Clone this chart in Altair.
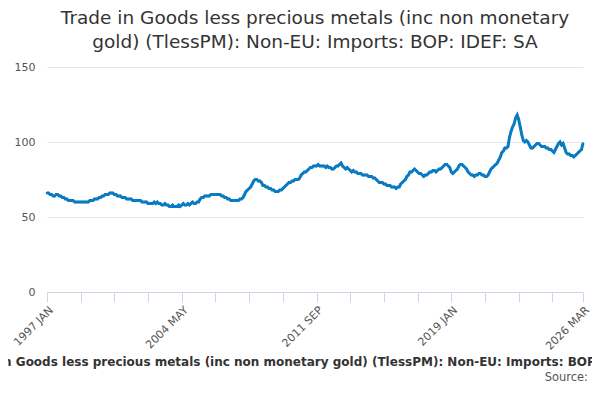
import altair as alt
import pandas as pd

months = ['JAN', 'FEB', 'MAR', 'APR', 'MAY', 'JUN', 'JUL', 'AUG', 'SEP', 'OCT', 'NOV', 'DEC']

# monthly values, one list per year
v1997 = [66, 66, 65, 65, 64, 64, 65, 65, 64, 64, 63, 63]
v1998 = [62, 62, 61, 61, 61, 61, 60, 60, 60, 60, 60, 60]
v1999 = [60, 60, 60, 60, 61, 61, 61, 62, 62, 62, 63, 63]
v2000 = [64, 64, 65, 65, 65, 66, 66, 66, 65, 65, 64, 64]
v2001 = [64, 63, 63, 63, 62, 62, 62, 62, 61, 61, 61, 61]
v2002 = [61, 61, 60, 60, 60, 60, 59, 59, 59, 59, 60, 59]
v2003 = [60, 59, 59, 58, 58, 59, 58, 58, 57, 57, 58, 57]
v2004 = [57, 57, 58, 57, 58, 59, 58, 58, 59, 58, 59, 60]
v2005 = [59, 59, 60, 60, 62, 63, 63, 64, 64, 64, 64, 65]
v2006 = [65, 65, 65, 65, 65, 65, 64, 64, 63, 63, 62, 62]
v2007 = [61, 61, 61, 61, 61, 61, 62, 62, 63, 65, 67, 68]
v2008 = [69, 70, 72, 74, 75, 75, 74, 74, 73, 71, 71, 70]
v2009 = [70, 69, 69, 68, 68, 67, 67, 67, 68, 68, 69, 70]
v2010 = [71, 72, 73, 73, 74, 74, 75, 75, 75, 76, 78, 79]
v2011 = [80, 80, 81, 82, 83, 83, 84, 84, 84, 85, 84, 84]
v2012 = [84, 84, 83, 84, 83, 83, 82, 82, 83, 84, 84, 85]
v2013 = [86, 84, 83, 82, 83, 82, 81, 80, 81, 80, 80, 79]
v2014 = [79, 79, 78, 78, 78, 78, 77, 77, 77, 76, 76, 75]
v2015 = [74, 73, 73, 73, 72, 72, 71, 71, 71, 70, 70, 70]
v2016 = [69, 70, 70, 72, 73, 74, 75, 77, 78, 80, 80, 81]
v2017 = [82, 81, 80, 79, 79, 78, 77, 78, 78, 79, 80, 80]
v2018 = [81, 81, 80, 81, 82, 82, 83, 84, 85, 85, 84, 83]
v2019 = [80, 79, 80, 81, 82, 84, 85, 85, 84, 83, 82, 80]
v2020 = [79, 78, 78, 77, 78, 78, 79, 79, 78, 78, 77, 77]
v2021 = [78, 80, 82, 83, 84, 85, 86, 88, 90, 93, 94, 96]
v2022 = [96, 97, 103, 107, 110, 112, 116, 118, 115, 110, 105, 101]
v2023 = [100, 101, 100, 98, 96, 96, 97, 98, 99, 99, 98, 97]
v2024 = [97, 97, 96, 96, 95, 95, 94, 93, 95, 97, 99, 100]
v2025 = [98, 99, 96, 93, 92, 92, 91, 91, 90, 91, 92, 93]
v2026 = [94, 95, 99]

years = [v1997, v1998, v1999, v2000, v2001, v2002, v2003, v2004, v2005, v2006,
         v2007, v2008, v2009, v2010, v2011, v2012, v2013, v2014, v2015, v2016,
         v2017, v2018, v2019, v2020, v2021, v2022, v2023, v2024, v2025, v2026]

rows = []
for k, vals in enumerate(years):
    for m, v in enumerate(vals):
        rows.append({'i': len(rows), 'label': f'{1997 + k} {months[m]}', 'value': v})
df = pd.DataFrame(rows)

tick_idx = list(range(0, 331, 22)) + [350]
label_idx = {0: '1997 JAN', 88: '2004 MAY', 176: '2011 SEP', 264: '2019 JAN', 350: '2026 MAR'}
label_expr = ' : '.join(f"datum.value == {k} ? '{v}'" for k, v in label_idx.items()) + " : ''"

font = 'DejaVu Sans'
xtitle = 'Trade in Goods less precious metals (inc non monetary gold) (TlessPM): Non-EU: Imports: BOP: IDEF: SA'

line = alt.Chart(df).mark_line(color='#0a7bc2', strokeWidth=3, point=alt.OverlayMarkDef(color='#0a7bc2', size=6)).encode(
    x=alt.X('i:Q', scale=alt.Scale(domain=[0, 350], nice=False), title=xtitle,
            axis=alt.Axis(values=tick_idx, labelExpr=label_expr, labelAngle=-45, labelAlign='right',
                          labelBaseline='top', labelFontSize=11, labelColor='#555', grid=False,
                          domainColor='#ccd6eb', tickColor='#ccd6eb', tickSize=10, labelPadding=2,
                          titleFontSize=12, titleFontWeight='bold', titleColor='#333',
                          titleY=64, titleX=262, labelOverlap=False)),
    y=alt.Y('value:Q', scale=alt.Scale(domain=[0, 150]), title=None,
            axis=alt.Axis(values=[0, 50, 100, 150], domain=False, ticks=False, labelColor='#555',
                          labelFontSize=11, gridColor='#e6e6e6', labelPadding=12))
)

source = alt.Chart(pd.DataFrame({'t': ['Source:']})).mark_text(
    align='right', baseline='middle', font=font, fontSize=11.5, color='#555').encode(
    text='t:N', x=alt.value(541), y=alt.value(311))

chart = (line + source).properties(
    width=536, height=225,
    autosize=alt.AutoSizeParams(type='none'),
    padding={'left': 39, 'top': 59, 'right': 9, 'bottom': 100},
    title=alt.Title(['Trade in Goods less precious metals (inc non monetary', 'gold) (TlessPM): Non-EU: Imports: BOP: IDEF: SA'],
                    fontSize=18.5, font=font, fontWeight='normal', color='#333', anchor='middle',
                    offset=10, lineHeight=24)
).configure_view(strokeOpacity=0).configure_axis(labelFont=font, titleFont=font)

chart.save('out.html', embed_options={'renderer': 'svg', 'actions': False})
